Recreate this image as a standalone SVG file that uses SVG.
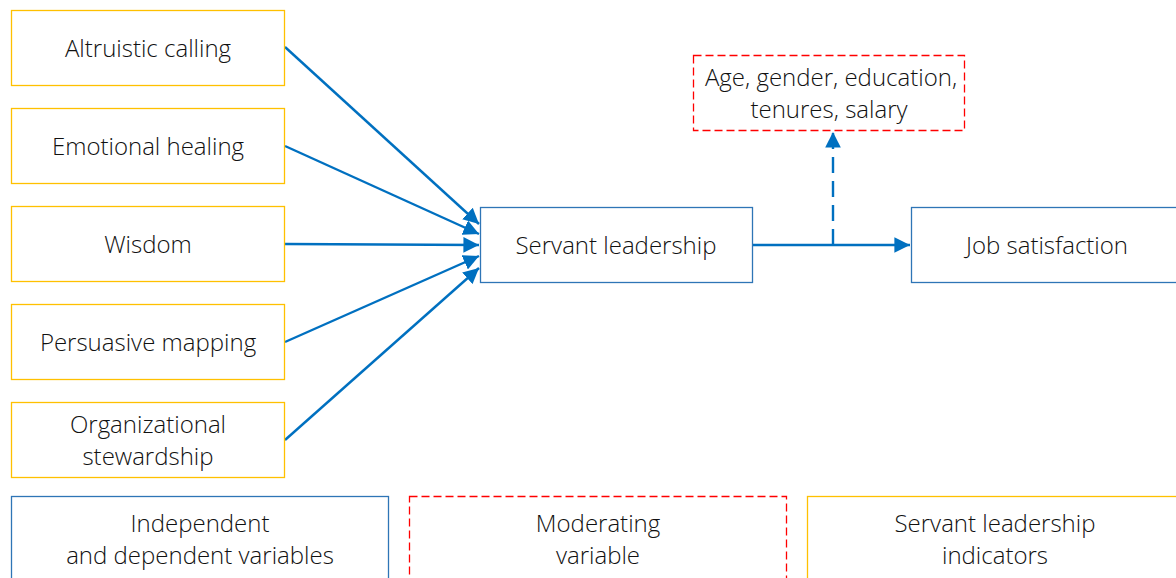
<svg xmlns="http://www.w3.org/2000/svg" width="1176" height="578" viewBox="0 0 1176 578">
<style>
text{font-family:"Open Sans","Noto Sans","DejaVu Sans",sans-serif;font-size:24px;font-weight:300;fill:#111;text-anchor:middle;dominant-baseline:central}
.ind rect{fill:#fff;stroke:#FFC000;stroke-width:1.3}
.var rect{fill:#fff;stroke:#2E75B6;stroke-width:1.3}
.mod rect{fill:#fff;stroke:#FF0000;stroke-width:1.3;stroke-dasharray:8 4}
.c{stroke:#0070C0;stroke-width:2.4;fill:none}
</style>
<defs>
<marker id="ah2" viewBox="0 0 10 10" refX="10" refY="5" markerWidth="6.5" markerHeight="6.5" orient="auto">
<path d="M0,0 L10,5 L0,10 z" fill="#0070C0"/>
</marker>
</defs>
<g id="connectors">
<line class="c" x1="285" y1="47" x2="479" y2="224" marker-end="url(#ah2)"/>
<line class="c" x1="285" y1="146" x2="479" y2="234" marker-end="url(#ah2)"/>
<line class="c" x1="285" y1="244" x2="479" y2="245" marker-end="url(#ah2)"/>
<line class="c" x1="285" y1="342" x2="479" y2="256" marker-end="url(#ah2)"/>
<line class="c" x1="285" y1="440" x2="479" y2="268" marker-end="url(#ah2)"/>
<line class="c" x1="752" y1="245" x2="910" y2="245" marker-end="url(#ah2)"/>
<line class="c" x1="833" y1="245" x2="833" y2="132" stroke-dasharray="16 8" marker-end="url(#ah2)"/>
</g>
<g id="altruistic" class="ind"><rect x="11.5" y="10.5" width="273" height="75"/><text x="148" y="47">Altruistic calling</text></g>
<g id="emotional" class="ind"><rect x="11.5" y="108.5" width="273" height="75"/><text x="148" y="145">Emotional healing</text></g>
<g id="wisdom" class="ind"><rect x="11.5" y="206.5" width="273" height="75"/><text x="148" y="243">Wisdom</text></g>
<g id="persuasive" class="ind"><rect x="11.5" y="304.5" width="273" height="75"/><text x="148" y="341">Persuasive mapping</text></g>
<g id="organizational" class="ind"><rect x="11.5" y="402.5" width="273" height="75"/><text x="148" y="423">Organizational</text><text x="148" y="455">stewardship</text></g>
<g id="servant" class="var"><rect x="480.5" y="207.5" width="272" height="75"/><text x="616" y="244">Servant leadership</text></g>
<g id="job" class="var"><rect x="911.5" y="207.5" width="272" height="75"/><text x="1047" y="244">Job satisfaction</text></g>
<g id="moderator" class="mod"><rect x="693.5" y="55.5" width="271" height="75"/><text x="831" y="76">Age, gender, education,</text><text x="829" y="108">tenures, salary</text></g>
<g id="legend-var" class="var"><rect x="11.5" y="496.5" width="377" height="100"/><text x="200" y="522">Independent</text><text x="200" y="554">and dependent variables</text></g>
<g id="legend-mod" class="mod"><rect x="409.5" y="496.5" width="377" height="100"/><text x="598" y="522">Moderating</text><text x="598" y="554">variable</text></g>
<g id="legend-ind" class="ind"><rect x="807.5" y="496.5" width="390" height="100"/><text x="995" y="522">Servant leadership</text><text x="995" y="554">indicators</text></g>
</svg>
